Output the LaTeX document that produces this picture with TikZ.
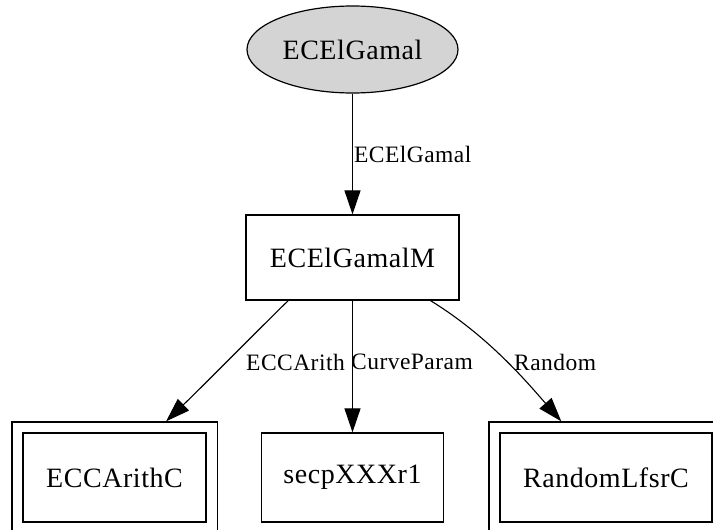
\documentclass[tikz,border=0pt]{standalone}
\usepackage{fontspec}
\setmainfont{Liberation Serif}
\newfontfamily\nfont[LetterSpace=2]{Liberation Serif}
\usetikzlibrary{shapes.geometric,arrows.meta,fit,calc}
\definecolor{ellfill}{gray}{0.83}
\begin{document}
\begin{tikzpicture}[x=1pt,y=-1pt,
  nd/.style={draw, line width=1.2pt, inner sep=0pt, font=\nfont\fontsize{28}{30}\selectfont},
  outerbox/.style={draw, line width=1.2pt, inner sep=10.5pt},
  edge/.style={draw, line width=1.1pt, -{Triangle[length=24pt,width=16pt]}},
  elabel/.style={inner sep=1pt, font=\nfont\fontsize{23.5}{25}\selectfont}]
\useasboundingbox (0,0) rectangle (713,530);
\clip (0,0) rectangle (713,530);
\node[nd, ellipse, fill=ellfill, minimum width=211pt, minimum height=87pt] (e) at (352.5,49.5) {ECElGamal};
\node[nd, minimum width=213pt, minimum height=85pt] (m) at (352.5,257.5) {ECElGamalM};
\node[nd, minimum width=183pt, minimum height=89pt] (a) at (114.5,477.5) {ECCArithC};
\node[outerbox, fit=(a)] (ao) {};
\node[nd, minimum width=182pt, minimum height=89pt] (s) at (352.5,477.5) {secpXXXr1};
\node[nd, minimum width=212pt, minimum height=89pt] (r) at (606,477.5) {RandomLfsrC};
\node[outerbox, fit=(r)] (ro) {};
\draw[edge] (e) -- (m) node[elabel, midway, anchor=west] (l0) {ECElGamal};
\draw[edge] ($(m.south west)!0.2!(m.south east)$) .. controls (252,336) and (204,385) .. ($(ao.north west)!0.75!(ao.north east)$);
\draw[edge] (m) -- (s);
\draw[edge] ($(m.south west)!0.864!(m.south east)$) .. controls (488,336) and (526,381) .. ($(ro.north west)!0.31!(ro.north east)$);
\node[elabel, anchor=west] (l1) at (245,362) {ECCArith};
\node[elabel, anchor=west] (l2) at (350,362) {CurveParam};
\node[elabel, anchor=west] (l3) at (513,362) {Random};
\end{tikzpicture}
\end{document}
